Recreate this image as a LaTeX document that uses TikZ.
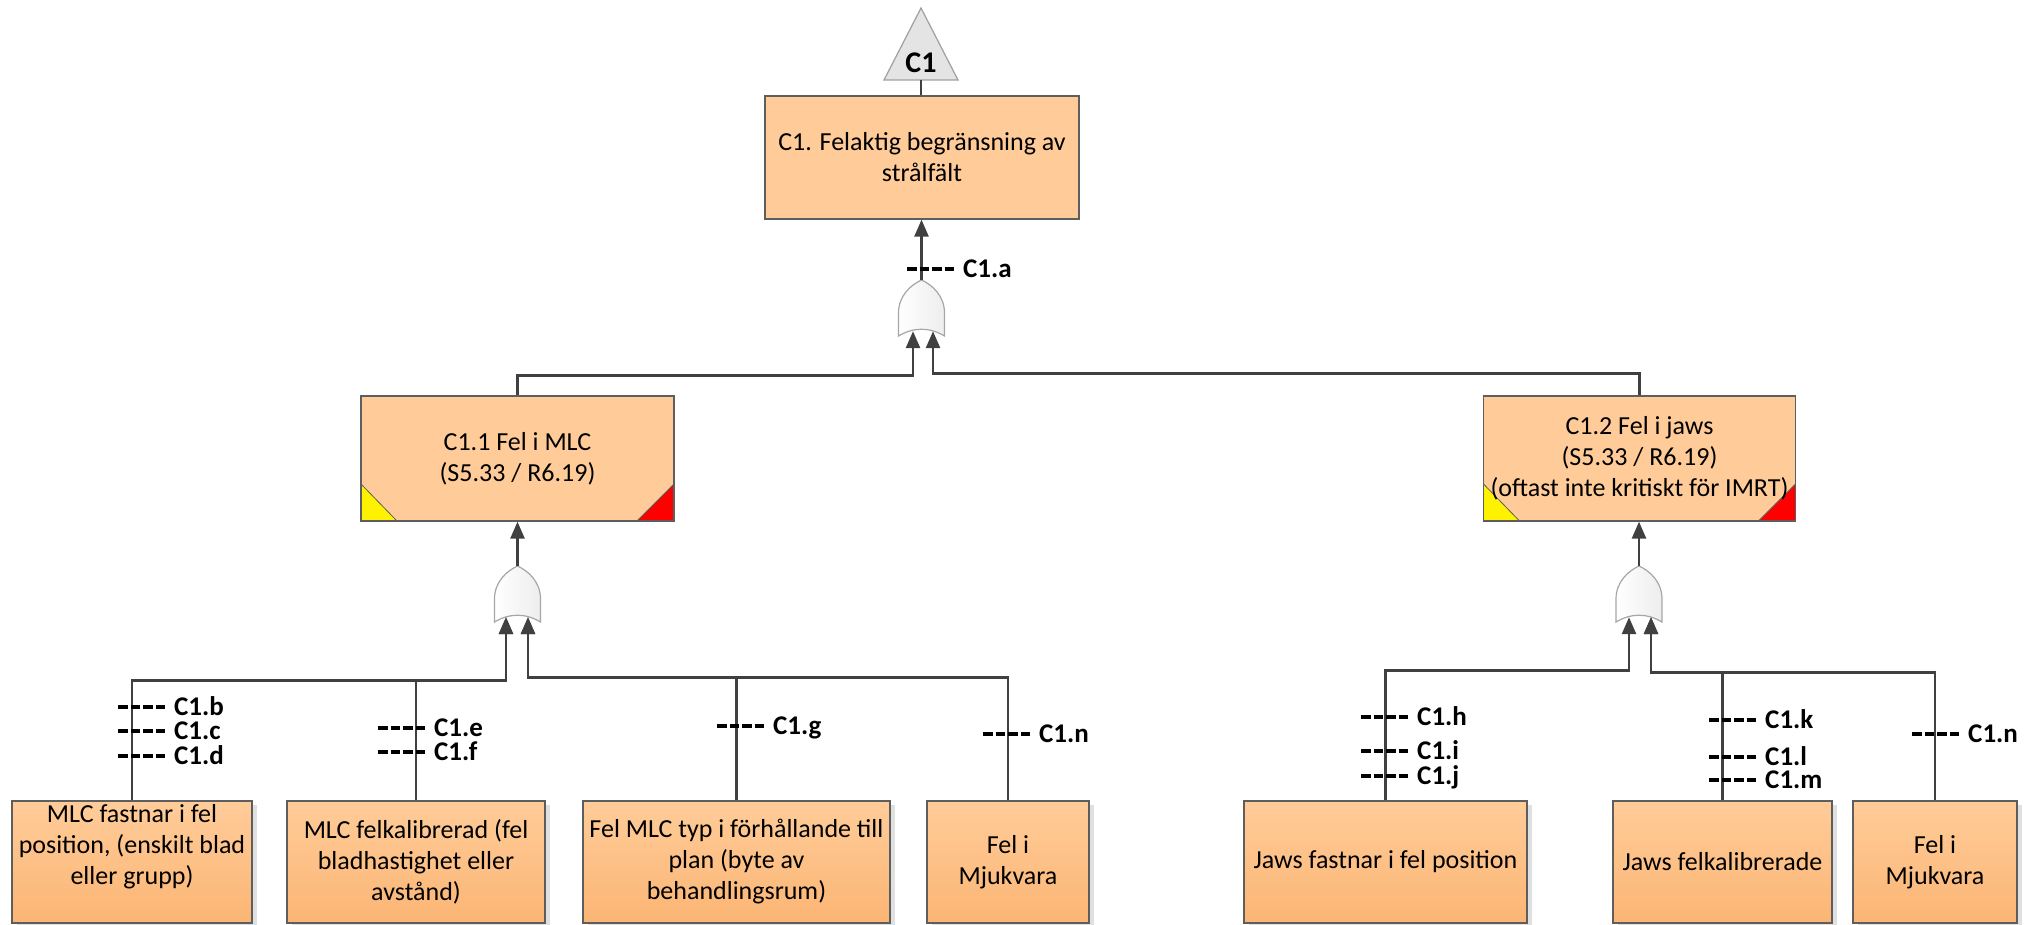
\documentclass[tikz,border=0pt]{standalone}
\usepackage{fontspec}
\setmainfont{Carlito}
\usetikzlibrary{arrows.meta,shadows,calc}
\definecolor{peach}{HTML}{FFCC99}
\definecolor{peachdeep}{HTML}{FBB574}
\definecolor{wirecol}{HTML}{404040}
\definecolor{edgecol}{HTML}{5E5E5E}
\definecolor{evgray}{HTML}{E4E4E4}

% OR gate: a named node carries the anchors, the body is drawn around it
\newcommand\orgate[3]{%
  \node[gatenode] (#1) at (#2,#3) {};
  \draw[gatebody, shift={(#1.center)}]
    (-23,28) -- (-23,5)
    .. controls (-23,-12) and (-11,-23) .. (0,-28)
    .. controls (11,-23) and (23,-12) .. (23,5)
    -- (23,28)
    .. controls (8,19) and (-8,19) .. cycle;
}
% event code: short dashed tick across a branch plus bold code text
\newcommand\codemark[4]{%
  \draw[tick] (#2,#3) -- ++(47,0);
  \node[codetext, anchor=base west] (#1) at (#2+56,#3+8.5) {#4};
}

\begin{document}
\begin{tikzpicture}[x=1pt,y=-1pt,
  wire/.style={draw=wirecol, line width=2.6pt},
  tip/.style={-{Triangle[length=17pt,width=14pt]}},
  box/.style={draw=edgecol, line width=1.3pt, fill=peach, inner sep=0pt,
    align=center, font=\fontsize{26}{31}\selectfont},
  leaf/.style={box, top color=peach, bottom color=peachdeep,
    drop shadow={shadow xshift=5pt, shadow yshift=-4pt, fill=black!12, opacity=1},
    minimum height=122pt},
  flags/.style={path picture={
    \fill[yellow] (path picture bounding box.south west)
      -- ([yshift=37pt]path picture bounding box.south west)
      -- ([xshift=36pt]path picture bounding box.south west) -- cycle;
    \draw[edgecol, line width=0.8pt] ([yshift=37pt]path picture bounding box.south west)
      -- ([xshift=36pt]path picture bounding box.south west);
    \fill[red] (path picture bounding box.south east)
      -- ([yshift=37pt]path picture bounding box.south east)
      -- ([xshift=-37pt]path picture bounding box.south east) -- cycle;
    \draw[edgecol, line width=0.8pt] ([yshift=37pt]path picture bounding box.south east)
      -- ([xshift=-37pt]path picture bounding box.south east);
  }},
  gatenode/.style={minimum width=46pt, minimum height=56pt, inner sep=0pt},
  gatebody/.style={draw=gray!70, line width=1.2pt, left color=white, right color=gray!14},
  tick/.style={draw=black, line width=3.6pt, dash pattern=on 9.5pt off 3pt},
  codetext/.style={font=\fontsize{27}{30}\selectfont\bfseries, inner sep=0pt,
    text height=17pt, text depth=3pt},
]
\useasboundingbox (0,0) rectangle (2042,925);

% ---- top event ----
\draw[draw=gray!75, fill=evgray, line width=1.2pt] (884,80) -- (921,8) -- (958,80) -- cycle;
\node[font=\fontsize{30}{32}\selectfont\bfseries, anchor=base, inner sep=0pt] (toplabel) at (921,73) {C1};
\coordinate (topbase) at (921,80);

\node[box, minimum width=314pt, minimum height=123pt] (c1) at (922,157.5)
  {C1. Felaktig begränsning av\\strålfält};

% ---- gates ----
\orgate{g0}{921.5}{308}
\orgate{g1}{517.5}{594}
\orgate{g2}{1639}{594}

% ---- intermediate events ----
\node[box, flags, minimum width=313pt, minimum height=125pt] (c11) at (517.5,458.5)
  {C1.1 Fel i MLC\\(S5.33 / R6.19)};
\node[box, flags, minimum width=312pt, minimum height=125pt] (c12) at (1639.5,458.5)
  {C1.2 Fel i jaws\\(S5.33 / R6.19)\\(oftast inte kritiskt för IMRT)};

% ---- basic events ----
\node[leaf, minimum width=240pt] (b1) at (132,862) {};
\node[font=\fontsize{26}{31}\selectfont, align=center, inner sep=0pt] (b1text) at (132,847)
  {MLC fastnar i fel\\position, (enskilt blad\\eller grupp)};
\node[leaf, minimum width=258pt] (b2) at (416,862)
  {MLC felkalibrerad (fel\\bladhastighet eller\\avstånd)};
\node[leaf, minimum width=307pt] (b3) at (736.5,862)
  {Fel MLC typ i förhållande till\\plan (byte av\\behandlingsrum)};
\node[leaf, minimum width=162pt] (b4) at (1008,862) {Fel i\\Mjukvara};
\node[leaf, minimum width=283pt] (b5) at (1385.5,862) {Jaws fastnar i fel position};
\node[leaf, minimum width=219pt] (b6) at (1722.5,862) {Jaws felkalibrerade};
\node[leaf, minimum width=164pt] (b7) at (1935,862) {Fel i\\Mjukvara};

% ---- connectors ----
\draw[wire] (topbase) -- (topbase |- c1.north);
\draw[wire, tip] (g0.north) -- (g0.north |- c1.south);
\draw[wire, tip] (c11.north) |- ([xshift=-8.5pt,yshift=-39pt]g0.south) -- ([xshift=-8.5pt,yshift=5pt]g0.south);
\draw[wire, tip] (c12.north) |- ([xshift=11.5pt,yshift=-37pt]g0.south) -- ([xshift=11.5pt,yshift=5pt]g0.south);

\draw[wire, tip] (g1.north) -- (g1.north |- c11.south);
\draw[wire, tip] (b1.north) |- ([xshift=-11.5pt,yshift=-58pt]g1.south) -- ([xshift=-11.5pt,yshift=5pt]g1.south);
\draw[wire, tip] (b2.north) |- ([xshift=-11.5pt,yshift=-58pt]g1.south) -- ([xshift=-11.5pt,yshift=5pt]g1.south);
\draw[wire, tip] (b3.north) |- ([xshift=10.5pt,yshift=-55pt]g1.south) -- ([xshift=10.5pt,yshift=5pt]g1.south);
\draw[wire, tip] (b4.north) |- ([xshift=10.5pt,yshift=-55pt]g1.south) -- ([xshift=10.5pt,yshift=5pt]g1.south);

\draw[wire, tip] (g2.north) -- (g2.north |- c12.south);
\draw[wire, tip] (b5.north) |- ([xshift=-10pt,yshift=-48pt]g2.south) -- ([xshift=-10pt,yshift=5pt]g2.south);
\draw[wire, tip] (b6.north) |- ([xshift=12pt,yshift=-50pt]g2.south) -- ([xshift=12pt,yshift=5pt]g2.south);
\draw[wire, tip] (b7.north) |- ([xshift=12pt,yshift=-50pt]g2.south) -- ([xshift=12pt,yshift=5pt]g2.south);

% ---- event codes ----
\codemark{ca}{907}{269}{C1.a}
\codemark{cb}{118}{707}{C1.b}
\codemark{cc}{118}{731}{C1.c}
\codemark{cd}{118}{756}{C1.d}
\codemark{ce}{378}{728}{C1.e}
\codemark{cf}{378}{752}{C1.f}
\codemark{cg}{717}{726}{C1.g}
\codemark{cn}{983}{734}{C1.n}
\codemark{ch}{1361}{717}{C1.h}
\codemark{ci}{1361}{751}{C1.i}
\codemark{cj}{1361}{776}{C1.j}
\codemark{ck}{1709}{720}{C1.k}
\codemark{cl}{1709}{757}{C1.l}
\codemark{cm}{1709}{780}{C1.m}
\codemark{cnn}{1912}{734}{C1.n}
\end{tikzpicture}
\end{document}
